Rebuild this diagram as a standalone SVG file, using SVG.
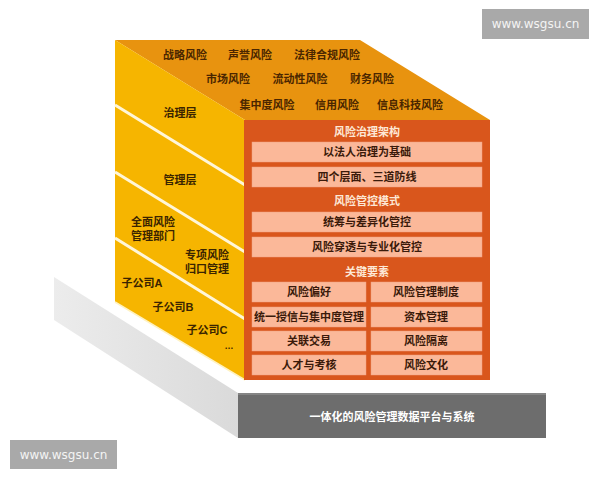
<svg xmlns="http://www.w3.org/2000/svg" width="600" height="480" viewBox="0 0 600 480">
<defs>
<linearGradient id="sideGray" x1="0" y1="0" x2="1" y2="0">
<stop offset="0" stop-color="#ececec"/>
<stop offset="1" stop-color="#dadada"/>
</linearGradient>
<style>
text{font-family:"Liberation Sans","Noto Sans CJK SC",sans-serif;font-size:11px;font-weight:bold;text-anchor:middle;dominant-baseline:central}
.top{fill:#4a2600}
.left{fill:#3a2400}
.hdr{fill:#fde8d6}
.box{fill:#fbb899;stroke:#f0a080;stroke-width:0.5}
.bt{fill:#3a1a0a}
.wm{font-family:"DejaVu Sans",sans-serif;font-size:12px;font-weight:normal;fill:#f4f4f4}
.sep{stroke:#fff6d8;stroke-width:3}
</style>
</defs>
<rect width="600" height="480" fill="#ffffff"/>

<g id="base">
<polygon points="54,277 238,393 238,438 54,320" fill="url(#sideGray)"/>
<rect x="238" y="393" width="308" height="45" fill="#6d6d6d"/>
<rect x="238" y="393" width="308" height="2" fill="#858585"/>
<text x="392" y="417" fill="#ffffff">一体化的风险管理数据平台与系统</text>
</g>

<g id="top-face">
<polygon points="115,40 360,40 490,120 245,120" fill="#e8930f"/>
<text class="top" x="185" y="55">战略风险</text>
<text class="top" x="250" y="55">声誉风险</text>
<text class="top" x="327" y="55">法律合规风险</text>
<text class="top" x="228" y="79">市场风险</text>
<text class="top" x="300" y="79">流动性风险</text>
<text class="top" x="372" y="79">财务风险</text>
<text class="top" x="267" y="105">集中度风险</text>
<text class="top" x="337" y="105">信用风险</text>
<text class="top" x="410" y="105">信息科技风险</text>
</g>

<g id="left-face">
<polygon points="115,40 245,120 245,380 115,302" fill="#f6b500"/>
<line class="sep" x1="115" y1="105" x2="245" y2="185"/>
<line class="sep" x1="115" y1="172" x2="245" y2="252"/>
<line class="sep" x1="115" y1="238" x2="245" y2="319"/>
<line x1="115" y1="302" x2="245" y2="380" stroke="#fff2c0" stroke-width="1.5"/>
<text class="left" x="180" y="113">治理层</text>
<text class="left" x="180" y="180">管理层</text>
<text class="left" x="153" y="222">全面风险</text>
<text class="left" x="153" y="236">管理部门</text>
<text class="left" x="207" y="255">专项风险</text>
<text class="left" x="207" y="269">归口管理</text>
<text class="left" x="142" y="283">子公司A</text>
<text class="left" x="173" y="307">子公司B</text>
<text class="left" x="207" y="330">子公司C</text>
<text class="left" x="229" y="346" style="font-size:9px">…</text>
</g>

<g id="front-face">
<rect x="244" y="120" width="246" height="260" fill="#d9561c"/>
<text class="hdr" x="367" y="132">风险治理架构</text>
<rect class="box" x="252" y="142" width="230" height="20"/>
<text class="bt" x="367" y="152">以法人治理为基础</text>
<rect class="box" x="252" y="167" width="230" height="20"/>
<text class="bt" x="367" y="177">四个层面、三道防线</text>
<text class="hdr" x="367" y="201">风险管控模式</text>
<rect class="box" x="252" y="212" width="230" height="20"/>
<text class="bt" x="367" y="222">统筹与差异化管控</text>
<rect class="box" x="252" y="237" width="230" height="20"/>
<text class="bt" x="367" y="247">风险穿透与专业化管控</text>
<text class="hdr" x="367" y="272">关键要素</text>
<rect class="box" x="252" y="282" width="114" height="20"/>
<text class="bt" x="309" y="292">风险偏好</text>
<rect class="box" x="371" y="282" width="111" height="20"/>
<text class="bt" x="426" y="292">风险管理制度</text>
<rect class="box" x="252" y="307" width="114" height="20"/>
<text class="bt" x="309" y="317">统一授信与集中度管理</text>
<rect class="box" x="371" y="307" width="111" height="20"/>
<text class="bt" x="426" y="317">资本管理</text>
<rect class="box" x="252" y="331" width="114" height="20"/>
<text class="bt" x="309" y="341">关联交易</text>
<rect class="box" x="371" y="331" width="111" height="20"/>
<text class="bt" x="426" y="341">风险隔离</text>
<rect class="box" x="252" y="355" width="114" height="20"/>
<text class="bt" x="309" y="365">人才与考核</text>
<rect class="box" x="371" y="355" width="111" height="20"/>
<text class="bt" x="426" y="365">风险文化</text>
</g>

<g id="watermark-top">
<rect x="482" y="9" width="107" height="30" fill="#a9a9a9"/>
<text class="wm" x="535.5" y="24">www.wsgsu.cn</text>
</g>
<g id="watermark-bottom">
<rect x="10" y="440" width="107" height="29" fill="#a9a9a9"/>
<text class="wm" x="63.5" y="454.5">www.wsgsu.cn</text>
</g>
</svg>
